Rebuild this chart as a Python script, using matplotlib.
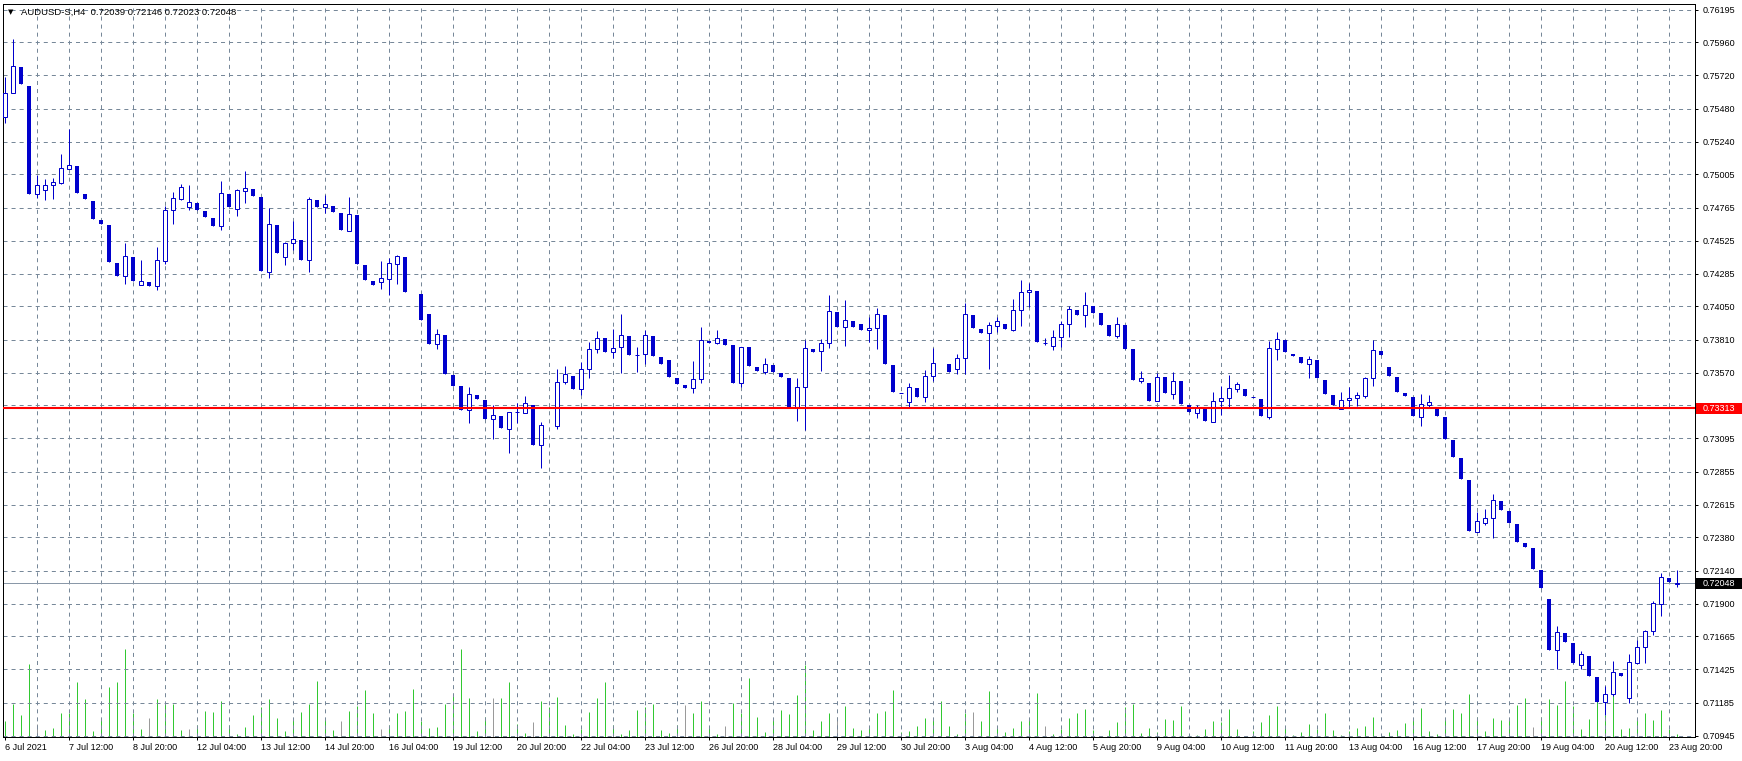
import numpy as np
import matplotlib.pyplot as plt
from matplotlib.patches import Rectangle
from matplotlib.transforms import blended_transform_factory

plt.rcParams['font.family'] = ['Liberation Sans', 'DejaVu Sans']
plt.rcParams['lines.scale_dashes'] = False

symbol = 'AUDUSD-S,H4'
last_ohlc = ['0.72039', '0.72146', '0.72023', '0.72048']
level_price = 0.73313
bid_price = 0.72048

# H4 bars, 6 Jul 2021 .. 23 Aug 2021 (nan = bar not drawn)
nan = np.nan
opens = [
    0.75418, 0.75591, 0.75782, 0.75644, 0.74861, 0.74890, 0.74926, 0.74945, 0.75046, 0.75066,
    0.74863, 0.74812, 0.74675, 0.74639, 0.74364, 0.74268, 0.74408, 0.74203, 0.74227, 0.74196,
    0.74381, 0.74745, 0.74827, 0.74767, 0.74798, 0.74740, 0.74687, 0.74630, 0.74863, 0.74752,
    0.74887, 0.74899, 0.74841, 0.74301, 0.74639, 0.74410, 0.74507, 0.74528, 0.74388, 0.74818,
    0.74767, 0.74776, 0.74726, 0.74598, 0.74711, 0.74350, 0.74234, 0.74229, 0.74251, 0.74359,
    0.74408, nan, 0.74140, 0.73995, 0.73776, 0.73843, 0.73554, 0.73475, 0.73299, 0.73409,
    0.73373, 0.73234, 0.73258, 0.73166, 0.73284, 0.73277, 0.73335, 0.73050, nan, 0.73187,
    0.73501, 0.73547, 0.73451, 0.73595, 0.73740, 0.73819, 0.73718, 0.73759, 0.73836, 0.73697,
    0.73704, 0.73836, 0.73684, 0.73663, 0.73532, 0.73482, 0.73458, 0.73523, 0.73800, 0.73783,
    0.73815, 0.73771, 0.73494, 0.73757, 0.73612, 0.73578, 0.73626, 0.73566, 0.73532, 0.73320,
    0.73465, 0.73742, 0.73726, 0.73783, 0.74010, 0.73899, 0.73945, 0.73923, 0.73877, 0.73892,
    0.73988, 0.73626, 0.73422, 0.73361, 0.73460, 0.73393, 0.73545, nan, 0.73634, 0.73595,
    0.73675, 0.73988, 0.73887, 0.73856, 0.73911, 0.73923, 0.73880, 0.74022, 0.74152, 0.74162,
    0.73788, 0.73766, 0.73827, 0.73921, 0.74024, 0.73986, 0.74053, 0.74003, 0.73916, 0.73838,
    0.73916, 0.73742, 0.73513, 0.73496, 0.73364, 0.73540, 0.73419, 0.73511, 0.73335, 0.73282,
    0.73308, 0.73216, 0.73364, 0.73386, 0.73455, 0.73453, 0.73393, 0.73381, 0.73253, 0.73744,
    0.73807, 0.73706, 0.73684, 0.73636, 0.73663, 0.73518, 0.73409, 0.73306, 0.73371, 0.73386,
    0.73404, 0.73530, 0.73728, 0.73612, 0.73540, 0.73424, 0.73395, 0.73253, 0.73339, 0.73313,
    0.73250, 0.73084, 0.72952, 0.72795, 0.72421, 0.72486, 0.72518, 0.72643, 0.72571, 0.72477,
    0.72339, 0.72303, 0.72144, 0.71934, 0.71563, 0.71688, 0.71616, 0.71455, 0.71522, 0.71370,
    0.71187, 0.71245, 0.71399, 0.71216, 0.71474, 0.71585, 0.71701, 0.71896, 0.72084, 0.72039,
]
highs = [
    0.75707, 0.75982, 0.75782, 0.75644, 0.75000, 0.74969, 0.74977, 0.75152, 0.75333, 0.75066,
    0.74863, 0.74812, 0.74675, 0.74639, 0.74364, 0.74507, 0.74408, 0.74386, 0.74227, 0.74480,
    0.74776, 0.74877, 0.74935, 0.74928, 0.74798, 0.74740, 0.74687, 0.74957, 0.74863, 0.74897,
    0.75029, 0.74899, 0.74841, 0.74762, 0.74639, 0.74516, 0.74670, 0.74528, 0.74839, 0.74818,
    0.74856, 0.74776, 0.74726, 0.74841, 0.74711, 0.74350, 0.74234, 0.74381, 0.74400, 0.74422,
    0.74408, nan, 0.74140, 0.73995, 0.73887, 0.73843, 0.73554, 0.73475, 0.73467, 0.73409,
    0.73373, 0.73335, 0.73258, 0.73284, 0.73349, 0.73402, 0.73335, 0.73212, nan, 0.73598,
    0.73619, 0.73547, 0.73648, 0.73793, 0.73872, 0.73819, 0.73887, 0.73995, 0.73836, 0.73754,
    0.73880, 0.73836, 0.73684, 0.73663, 0.73532, 0.73482, 0.73655, 0.73899, 0.73800, 0.73880,
    0.73815, 0.73771, 0.73754, 0.73757, 0.73612, 0.73677, 0.73626, 0.73566, 0.73532, 0.73532,
    0.73807, 0.73742, 0.73815, 0.74133, 0.74010, 0.74096, 0.73945, 0.73923, 0.73976, 0.74039,
    0.73988, 0.73626, 0.73422, 0.73494, 0.73460, 0.73590, 0.73751, nan, 0.73634, 0.73706,
    0.74073, 0.73988, 0.73887, 0.73937, 0.73974, 0.73923, 0.74102, 0.74241, 0.74217, 0.74162,
    0.73819, 0.73880, 0.73947, 0.74053, 0.74024, 0.74154, 0.74053, 0.74003, 0.73916, 0.73974,
    0.73916, 0.73742, 0.73583, 0.73496, 0.73566, 0.73540, 0.73576, 0.73511, 0.73335, 0.73339,
    0.73308, 0.73431, 0.73475, 0.73554, 0.73504, 0.73453, 0.73393, 0.73381, 0.73800, 0.73865,
    0.73807, 0.73706, 0.73684, 0.73692, 0.73663, 0.73518, 0.73409, 0.73431, 0.73467, 0.73431,
    0.73538, 0.73807, 0.73728, 0.73612, 0.73540, 0.73424, 0.73395, 0.73417, 0.73409, 0.73313,
    0.73250, 0.73084, 0.72952, 0.72795, 0.72561, 0.72585, 0.72694, 0.72643, 0.72571, 0.72477,
    0.72339, 0.72303, 0.72144, 0.71934, 0.71739, 0.71688, 0.71616, 0.71560, 0.71522, 0.71370,
    0.71305, 0.71486, 0.71399, 0.71537, 0.71634, 0.71710, 0.71918, 0.72124, 0.72084, 0.72146,
]
lows = [
    0.75379, 0.75591, 0.75661, 0.74865, 0.74836, 0.74820, 0.74829, 0.74937, 0.75042, 0.74872,
    0.74829, 0.74684, 0.74648, 0.74374, 0.74272, 0.74214, 0.74236, 0.74203, 0.74198, 0.74167,
    0.74359, 0.74648, 0.74820, 0.74749, 0.74749, 0.74697, 0.74634, 0.74601, 0.74771, 0.74706,
    0.74800, 0.74851, 0.74306, 0.74258, 0.74439, 0.74350, 0.74458, 0.74388, 0.74301, 0.74769,
    0.74726, 0.74733, 0.74603, 0.74598, 0.74359, 0.74241, 0.74205, 0.74178, 0.74133, 0.74212,
    0.74154, nan, 0.73952, 0.73781, 0.73744, 0.73564, 0.73477, 0.73301, 0.73209, 0.73381,
    0.73236, 0.73094, 0.73173, 0.72992, 0.73205, 0.73277, 0.73050, 0.72884, nan, 0.73166,
    0.73489, 0.73455, 0.73409, 0.73535, 0.73711, 0.73723, 0.73675, 0.73571, 0.73701, 0.73576,
    0.73632, 0.73694, 0.73636, 0.73542, 0.73491, 0.73462, 0.73426, 0.73498, 0.73788, 0.73776,
    0.73773, 0.73498, 0.73469, 0.73621, 0.73583, 0.73561, 0.73578, 0.73542, 0.73325, 0.73224,
    0.73156, 0.73723, 0.73585, 0.73751, 0.73903, 0.73764, 0.73903, 0.73882, 0.73795, 0.73744,
    0.73636, 0.73433, 0.73422, 0.73325, 0.73397, 0.73361, 0.73513, nan, 0.73578, 0.73561,
    0.73561, 0.73896, 0.73860, 0.73600, 0.73863, 0.73887, 0.73872, 0.73908, 0.74044, 0.73793,
    0.73771, 0.73735, 0.73754, 0.73829, 0.73990, 0.73901, 0.74005, 0.73918, 0.73838, 0.73824,
    0.73744, 0.73520, 0.73498, 0.73368, 0.73364, 0.73426, 0.73383, 0.73347, 0.73289, 0.73245,
    0.73224, 0.73216, 0.73265, 0.73320, 0.73433, 0.73402, 0.73393, 0.73258, 0.73236, 0.73663,
    0.73720, 0.73694, 0.73643, 0.73535, 0.73535, 0.73419, 0.73337, 0.73306, 0.73325, 0.73332,
    0.73390, 0.73477, 0.73699, 0.73549, 0.73431, 0.73402, 0.73258, 0.73185, 0.73323, 0.73260,
    0.73094, 0.72963, 0.72804, 0.72428, 0.72421, 0.72469, 0.72373, 0.72580, 0.72486, 0.72349,
    0.72312, 0.72153, 0.72012, 0.71568, 0.71430, 0.71625, 0.71474, 0.71426, 0.71379, 0.71192,
    0.71095, 0.71235, 0.71379, 0.71184, 0.71474, 0.71474, 0.71676, 0.71813, 0.72055, 0.72023,
]
closes = [
    0.75591, 0.75787, 0.75661, 0.74865, 0.74926, 0.74926, 0.74948, 0.75049, 0.75071, 0.74872,
    0.74829, 0.74684, 0.74648, 0.74374, 0.74272, 0.74413, 0.74236, 0.74232, 0.74198, 0.74386,
    0.74745, 0.74834, 0.74911, 0.74805, 0.74749, 0.74697, 0.74634, 0.74868, 0.74771, 0.74890,
    0.74904, 0.74851, 0.74306, 0.74644, 0.74439, 0.74507, 0.74535, 0.74388, 0.74825, 0.74769,
    0.74789, 0.74733, 0.74603, 0.74718, 0.74359, 0.74241, 0.74205, 0.74253, 0.74362, 0.74413,
    0.74154, nan, 0.73952, 0.73781, 0.73848, 0.73564, 0.73477, 0.73301, 0.73415, 0.73381,
    0.73236, 0.73263, 0.73173, 0.73284, 0.73284, 0.73349, 0.73050, 0.73190, nan, 0.73501,
    0.73559, 0.73455, 0.73595, 0.73740, 0.73819, 0.73723, 0.73747, 0.73841, 0.73701, 0.73697,
    0.73841, 0.73694, 0.73636, 0.73542, 0.73491, 0.73462, 0.73523, 0.73805, 0.73788, 0.73819,
    0.73773, 0.73498, 0.73754, 0.73621, 0.73583, 0.73632, 0.73578, 0.73542, 0.73325, 0.73465,
    0.73747, 0.73723, 0.73783, 0.74015, 0.73903, 0.73950, 0.73903, 0.73882, 0.73892, 0.73993,
    0.73636, 0.73433, 0.73422, 0.73465, 0.73397, 0.73545, 0.73639, nan, 0.73578, 0.73675,
    0.73993, 0.73896, 0.73860, 0.73914, 0.73943, 0.73887, 0.74022, 0.74152, 0.74167, 0.73793,
    0.73788, 0.73827, 0.73923, 0.74029, 0.73990, 0.74058, 0.74005, 0.73918, 0.73838, 0.73921,
    0.73744, 0.73520, 0.73530, 0.73368, 0.73542, 0.73426, 0.73511, 0.73347, 0.73289, 0.73316,
    0.73224, 0.73366, 0.73386, 0.73458, 0.73487, 0.73402, 0.73393, 0.73258, 0.73747, 0.73812,
    0.73720, 0.73694, 0.73643, 0.73668, 0.73535, 0.73419, 0.73337, 0.73371, 0.73386, 0.73407,
    0.73532, 0.73733, 0.73699, 0.73549, 0.73431, 0.73402, 0.73258, 0.73342, 0.73357, 0.73260,
    0.73094, 0.72963, 0.72804, 0.72428, 0.72498, 0.72518, 0.72650, 0.72580, 0.72486, 0.72349,
    0.72312, 0.72153, 0.72012, 0.71568, 0.71693, 0.71625, 0.71474, 0.71537, 0.71379, 0.71192,
    0.71245, 0.71404, 0.71379, 0.71476, 0.71585, 0.71703, 0.71905, 0.72091, 0.72055, 0.72048,
]
volumes = [
    1920, 3960, 2640, 8760, 1600, 840, 1080, 2880, 2880, 6600,
    4560, 720, 2000, 6000, 6600, 10560, 2880, 960, 2280, 4560,
    3960, 3960, 840, 920, 1440, 3120, 3000, 4320, 1400, 360,
    1200, 2640, 3560, 4560, 2280, 720, 2160, 3000, 3960, 6720,
    2120, 840, 1920, 3120, 3720, 5640, 2880, 960, 1440, 2880,
    3120, 5760, 1880, 1080, 1200, 3960, 5040, 10560, 4680, 720,
    2400, 4680, 4680, 6600, 1560, 480, 1800, 4320, 3600, 4800,
    1440, 360, 920, 3000, 4680, 6600, 1440, 360, 840, 3240,
    3600, 3960, 840, 480, 1440, 3800, 2880, 4320, 1280, 360,
    1320, 4080, 2880, 7080, 2400, 600, 2040, 3240, 2760, 5040,
    8640, 840, 1920, 2880, 2400, 3720, 1080, 840, 1200, 2880,
    3120, 5640, 600, 720, 1320, 2280, 2160, 4320, 1320, 360,
    2880, 3000, 1920, 5520, 1320, 600, 1080, 1920, 2040, 5280,
    1320, 360, 960, 2280, 2880, 3360, 840, 120, 840, 1800,
    3600, 3960, 480, 1080, 600, 2160, 2040, 3720, 360, 240,
    960, 1920, 1800, 3360, 960, 120, 720, 1800, 2640, 3720,
    1320, 240, 600, 1560, 960, 2880, 840, 240, 720, 1080,
    1320, 2400, 240, 600, 840, 1680, 2040, 3480, 720, 360,
    2240, 3360, 2920, 5160, 2400, 720, 2280, 2040, 2320, 3840,
    4680, 1200, 2400, 4560, 3840, 6720, 3720, 960, 2160, 5040,
    2640, 5160, 960, 1080, 2280, 2880, 2040, 3240, 960, 360,
]
grey_volume_bars = [4, 18, 23, 42, 47, 61, 66, 85, 90, 104, 121, 130, 191]

time_labels = ['6 Jul 2021', '7 Jul 12:00', '8 Jul 20:00', '12 Jul 04:00', '13 Jul 12:00',
               '14 Jul 20:00', '16 Jul 04:00', '19 Jul 12:00', '20 Jul 20:00', '22 Jul 04:00',
               '23 Jul 12:00', '26 Jul 20:00', '28 Jul 04:00', '29 Jul 12:00', '30 Jul 20:00',
               '3 Aug 04:00', '4 Aug 12:00', '5 Aug 20:00', '9 Aug 04:00', '10 Aug 12:00',
               '11 Aug 20:00', '13 Aug 04:00', '16 Aug 12:00', '17 Aug 20:00', '19 Aug 04:00',
               '20 Aug 12:00', '23 Aug 20:00']
price_ticks = [0.76195, 0.75960, 0.75720, 0.75480, 0.75240, 0.75005, 0.74765, 0.74525,
               0.74285, 0.74050, 0.73810, 0.73570, 0.73335, 0.73095, 0.72855, 0.72615,
               0.72380, 0.72140, 0.71900, 0.71665, 0.71425, 0.71185, 0.70945]

blue = '#0000cc'
grid_c = '#778899'
px = 0.72  # one pixel in points at dpi 100

o = np.array(opens)
h = np.array(highs)
l = np.array(lows)
c = np.array(closes)
x = np.arange(len(o))
ok = ~np.isnan(o)
up = ok & (c >= o)
dn = ok & (c < o)

fig = plt.figure(figsize=(17.42, 7.61), dpi=100)
ax = fig.add_axes([3 / 1742, 24 / 761, 1692 / 1742, 733 / 761])
ax2 = ax.twinx()
ax.set_zorder(2)
ax.patch.set_visible(False)
ax2.set_zorder(1)

# volumes
vcol = ['#9a9a9a' if i in grey_volume_bars else '#32c832' for i in range(len(volumes))]
ax2.vlines(x, 0, volumes, colors=vcol, lw=px)
ax2.set_ylim(0, 87960)
ax2.set_yticks([])
for s in ax2.spines.values():
    s.set_visible(False)

# grid
for p in price_ticks:
    ax.axhline(p, color=grid_c, lw=px, dashes=(2.9, 2.9), zorder=0)
for xi in range(4, len(o), 4):
    ax.axvline(xi, color=grid_c, lw=px, dashes=(2.9, 2.9), zorder=0)

# candles
ax.vlines(x[ok], l[ok], h[ok], color=blue, lw=px, zorder=3)
ax.bar(x[up], (c - o)[up], bottom=o[up], width=0.45, facecolor='white',
       edgecolor=blue, linewidth=px, zorder=4)
ax.bar(x[dn], (c - o)[dn], bottom=o[dn], width=0.42, color=blue, linewidth=0, zorder=4)

ax.axhline(level_price, color='#ff0000', lw=1.5, zorder=5)
ax.axhline(bid_price, color='#8a98a8', lw=px, zorder=2)

ax.set_xlim(-0.25, 211.25)
ax.set_ylim(0.70936, 0.76237)

ax.set_xticks(range(0, 8 * len(time_labels), 8))
ax.set_xticklabels(time_labels, ha='left', fontsize=6.5)
ax.yaxis.tick_right()
ax.set_yticks(price_ticks)
ax.set_yticklabels(['%.5f' % p for p in price_ticks], fontsize=6.5)
ax.tick_params(axis='x', length=2.2, width=px, pad=2)
ax.tick_params(axis='y', length=2.2, width=px, pad=3.5)
for s in ax.spines.values():
    s.set_linewidth(px)
    s.set_color('black')

# price tags on the axis
tr = blended_transform_factory(fig.transFigure, ax.transData)
for p, col in [(level_price, '#ff0000'), (bid_price, 'black')]:
    ax.add_patch(Rectangle((1696 / 1742, p - 0.0004), 46 / 1742, 0.0008, transform=tr,
                           facecolor=col, edgecolor='none', clip_on=False, zorder=10))
    ax.text(1703 / 1742, p, '%.5f' % p, transform=tr, color='white', fontsize=6.5,
            ha='left', va='center', clip_on=False, zorder=11)

fig.text(8 / 1742, 1 - 12 / 761, '\u25bc', fontsize=5, family='DejaVu Sans', va='center')
fig.text(21 / 1742, 1 - 12 / 761, symbol + '  ' + ' '.join(last_ohlc), fontsize=6.8, va='center')

fig.savefig('out.png', dpi=100)
